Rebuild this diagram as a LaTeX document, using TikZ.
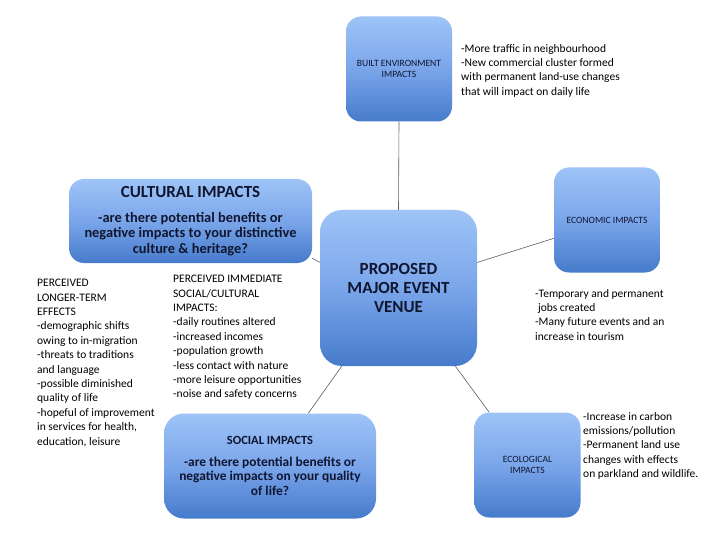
\documentclass[tikz,border=0pt]{standalone}
\usepackage{fontspec}
\setmainfont{Carlito}
\definecolor{boxtop}{RGB}{158,196,247}
\definecolor{boxmid}{RGB}{122,165,234}
\definecolor{boxbot}{RGB}{70,123,203}
\definecolor{boxtext}{RGB}{16,22,48}
\definecolor{linkgray}{RGB}{85,95,105}
\begin{document}
\begin{tikzpicture}[x=1pt,y=-1pt,
  box/.style={draw=none, rounded corners=#1, top color=boxtop, bottom color=boxbot, middle color=boxmid, inner sep=0pt, align=center, text=boxtext},
  box/.default=15pt,
  smallbox/.style={box=15pt, minimum width=106pt, minimum height=105pt, font=\fontsize{9.6}{11}\selectfont},
  link/.style={draw=linkgray, line width=0.6pt},
  note/.style={anchor=north west, inner sep=0pt, align=left, text=black, font=\fontsize{11.5}{14.4}\selectfont}]
\fill[white] (0,0) rectangle (720,540);
\useasboundingbox (0,0) rectangle (720,540);

\node[smallbox] (built) at (399,69) {BUILT ENVIRONMENT\\IMPACTS};
\node[box=22pt, minimum width=157pt, minimum height=156pt, font=\bfseries\fontsize{17}{19}\selectfont] (venue) at (398.5,288) {PROPOSED\\MAJOR EVENT\\VENUE};
\node[box=15pt, minimum width=243pt, minimum height=84pt, font=\bfseries\fontsize{14.4}{15.5}\selectfont] (cult) at (190.5,221) {{\fontsize{17}{18}\selectfont CULTURAL IMPACTS}\\[9pt]-are there potential benefits or\\negative impacts to your distinctive\\culture \& heritage?};
\node[box=20pt, minimum width=212pt, minimum height=105pt, font=\bfseries\fontsize{13.4}{14.5}\selectfont] (social) at (270,466) {{\fontsize{12.5}{13}\selectfont SOCIAL IMPACTS}\\[7pt]-are there potential benefits or\\negative impacts on your quality\\of life?};
\node[smallbox] (econ) at (607,220) {ECONOMIC IMPACTS};
\node[smallbox] (eco) at (527.5,465) {ECOLOGICAL\\IMPACTS};

\node[note] (builtnote) at (461,44) {-More traffic in neighbourhood\\-New commercial cluster formed\\with permanent land-use changes\\that will impact on daily life};
\node[note] (econnote) at (535,289) {-Temporary and permanent\\\hspace{0.25em}jobs created\\-Many future events and an\\increase in tourism};
\node[note] (econote) at (583,412) {-Increase in carbon\\emissions/pollution\\-Permanent land use\\changes with effects\\on parkland and wildlife.};
\node[note] (longnote) at (37,279) {PERCEIVED\\LONGER-TERM\\EFFECTS\\-demographic shifts\\owing to in-migration\\-threats to traditions\\and language\\-possible diminished\\quality of life\\-hopeful of improvement\\in services for health,\\education, leisure};
\node[note] (immnote) at (173,275) {PERCEIVED IMMEDIATE\\SOCIAL/CULTURAL\\IMPACTS:\\-daily routines altered\\-increased incomes\\-population growth\\-less contact with nature\\-more leisure opportunities\\-noise and safety concerns};

\draw[link] (built.south) -- (venue.north);
\draw[link] (cult.-17) -- (venue.162);
\draw[link] (venue.18) -- (econ.-161);
\draw[link] (venue.234) -- (social.54);
\draw[link] (venue.-54) -- (eco.126);
\end{tikzpicture}
\end{document}
